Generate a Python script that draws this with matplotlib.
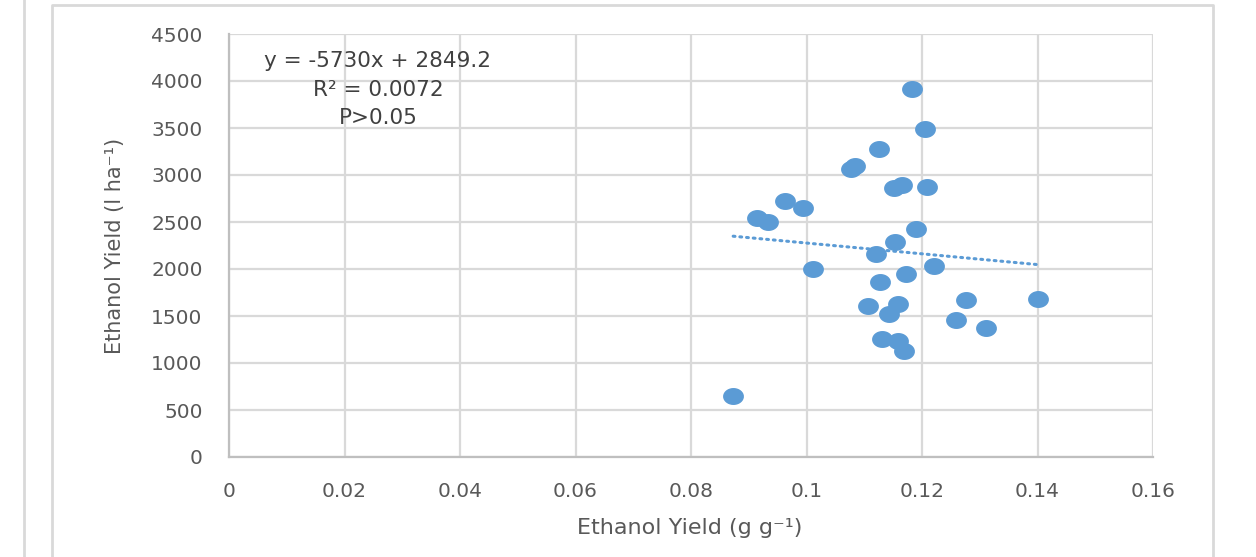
import numpy as np
import matplotlib.pyplot as plt
from matplotlib.path import Path
from matplotlib.lines import Line2D

# Data
yield_g = [0.1182, 0.1206, 0.1126, 0.1084, 0.1077, 0.1165, 0.1152, 0.1209,
           0.0962, 0.0994, 0.0914, 0.0933, 0.1190, 0.1153, 0.1120, 0.1220,
           0.1011, 0.1173, 0.1128, 0.1276, 0.1401, 0.1158, 0.1107, 0.1142,
           0.1259, 0.1311, 0.1131, 0.1158, 0.1169, 0.0873]
yield_ha = [3915, 3486, 3273, 3096, 3064, 2894, 2865, 2869,
            2720, 2652, 2546, 2503, 2422, 2290, 2156, 2032,
            1997, 1950, 1858, 1670, 1684, 1628, 1603, 1521,
            1454, 1376, 1252, 1234, 1131, 649]

slope = -5730
intercept = 2849.2
annot = ["y = -5730x + 2849.2", "R\u00b2 = 0.0072", "P>0.05"]

text_col = "#595959"
grid_col = "#d9d9d9"
blue = "#5b9bd5"

fig = plt.figure(figsize=(12.56, 5.57), dpi=100)
ax = fig.add_axes([229 / 1256, 1 - 457 / 557, 924 / 1256, 423 / 557])

# slightly wide ellipse marker, like the stretched reference
t = np.linspace(0, 2 * np.pi, 40)
ell = Path(np.column_stack([1.25 * np.cos(t), np.sin(t)]))

ax.plot(yield_g, yield_ha, linestyle="none", marker=ell, ms=14,
        color=blue, zorder=3)

xs = np.array([min(yield_g), max(yield_g)])
ax.plot(xs, slope * xs + intercept, color=blue, lw=2.2,
        linestyle=(0, (0.6, 1.6)), dash_capstyle="round", zorder=2)

ax.set_xlim(0, 0.16)
ax.set_ylim(0, 4500)
ax.set_xticks(np.arange(0, 0.161, 0.02))
ax.set_xticklabels(["0", "0.02", "0.04", "0.06", "0.08", "0.1", "0.12", "0.14", "0.16"])
ax.set_yticks(np.arange(0, 4501, 500))
ax.grid(True, color=grid_col, lw=1.6)
ax.set_axisbelow(True)
for s in ["top", "right"]:
    ax.spines[s].set_visible(False)
for s in ["left", "bottom"]:
    ax.spines[s].set_color("#bfbfbf")
    ax.spines[s].set_linewidth(1.6)
ax.tick_params(length=0, labelsize=14.5, colors=text_col)
ax.tick_params(axis="y", pad=19)
ax.tick_params(axis="x", pad=18)

fig.text(690 / 1256, 1 - 528 / 557, "Ethanol Yield (g g\u207b\u00b9)", ha="center",
         va="center", fontsize=16, color=text_col)
fig.text(115 / 1256, 1 - 246 / 557, "Ethanol Yield (l ha\u207b\u00b9)", ha="center",
         va="center", rotation=90, fontsize=15, color=text_col)

for i, s in enumerate(annot):
    fig.text(378 / 1256, 1 - (61 + i * 28.5) / 557, s, ha="center", va="center",
             fontsize=15.5, color="#404040")

# surrounding borders from the original layout
fig.add_artist(Line2D([24 / 1256, 24 / 1256], [0, 1], color=grid_col, lw=2))
fig.add_artist(Line2D([52 / 1256, 52 / 1256, 1213 / 1256, 1213 / 1256],
                      [0, 1 - 5 / 557, 1 - 5 / 557, 0], color=grid_col, lw=2))

fig.savefig("out.png", dpi=100)
plt.close(fig)
